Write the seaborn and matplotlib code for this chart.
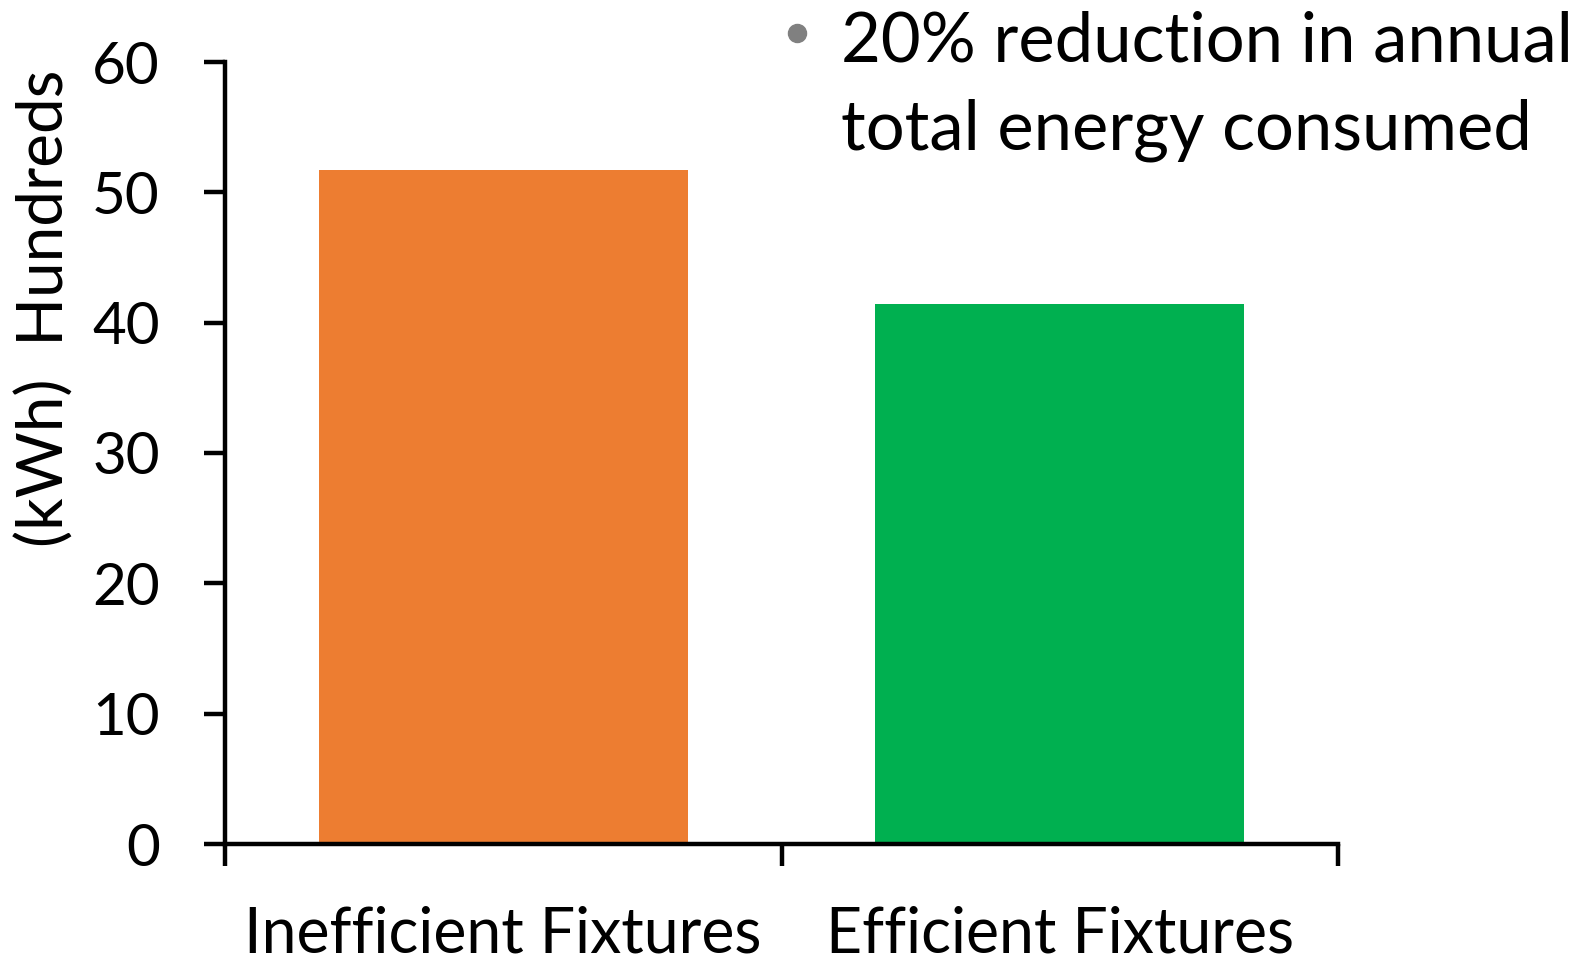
import matplotlib
matplotlib.use("Agg")
import matplotlib.pyplot as plt
import seaborn as sns
import pandas as pd

# Annual energy consumption, in hundreds of kWh
categories = ["Inefficient Fixtures", "Efficient Fixtures"]
energy_hundreds_kwh = [51.7, 41.4]
bar_colors = ["#ED7D31", "#00B050"]
y_ticks = [0, 10, 20, 30, 40, 50, 60]
y_axis_title = "(kWh)  Hundreds"
note_lines = ["20% reduction in annual", "total energy consumed"]

sns.set_theme(style="white")
plt.rcParams["font.family"] = ["Lato", "DejaVu Sans"]

W, H = 1583, 959
fig = plt.figure(figsize=(W / 100, H / 100), dpi=100)
ax = fig.add_axes([225 / W, 1 - 844 / H, (1338 - 225) / W, (844 - 62) / H])

df = pd.DataFrame({"fixture": categories, "energy": energy_hundreds_kwh})
sns.barplot(data=df, x="fixture", y="energy", hue="fixture",
            palette=bar_colors, width=0.663, legend=False, ax=ax,
            saturation=1.0, edgecolor="none")

ax.set_xlim(-0.5, 1.5)
ax.set_ylim(0, 60)
ax.set_yticks(y_ticks)
ax.set_yticklabels([str(t) for t in y_ticks])

# Category boundaries carry the tick marks, labels sit between them
ax.set_xticks([-0.5, 0.5, 1.5])
ax.set_xticklabels(["", "", ""])
ax.set_xticks([0, 1], minor=True)
ax.set_xticklabels(categories, minor=True)
ax.tick_params(axis="x", which="major", direction="out", length=16,
               width=3.2, color="black", bottom=True)
ax.tick_params(axis="x", which="minor", length=0, pad=44,
               labelsize=45, labelcolor="black", bottom=True)
ax.tick_params(axis="y", direction="out", length=15, width=3.2,
               color="black", pad=32, labelsize=42, labelcolor="black", left=True)

ax.set_xlabel("")
ax.set_ylabel("")
for side in ["top", "right"]:
    ax.spines[side].set_visible(False)
for side in ["left", "bottom"]:
    ax.spines[side].set_color("black")
    ax.spines[side].set_linewidth(3.2)
ax.grid(False)

fig.text(45 / W, 1 - 308 / H, y_axis_title, rotation=90, ha="center",
         va="center", fontsize=46, color="black")

# Bulleted note in the upper right
ax.plot([797 / W], [1 - 33 / H], marker="o", markersize=13, color="#808080",
        transform=fig.transFigure, clip_on=False)
fig.text(841 / W, 1 - 62 / H, note_lines[0], ha="left", va="baseline",
         fontsize=49.5, color="black")
fig.text(841 / W, 1 - 149 / H, note_lines[1], ha="left", va="baseline",
         fontsize=49.5, color="black")

fig.savefig("out.png", dpi=100, facecolor="white")
